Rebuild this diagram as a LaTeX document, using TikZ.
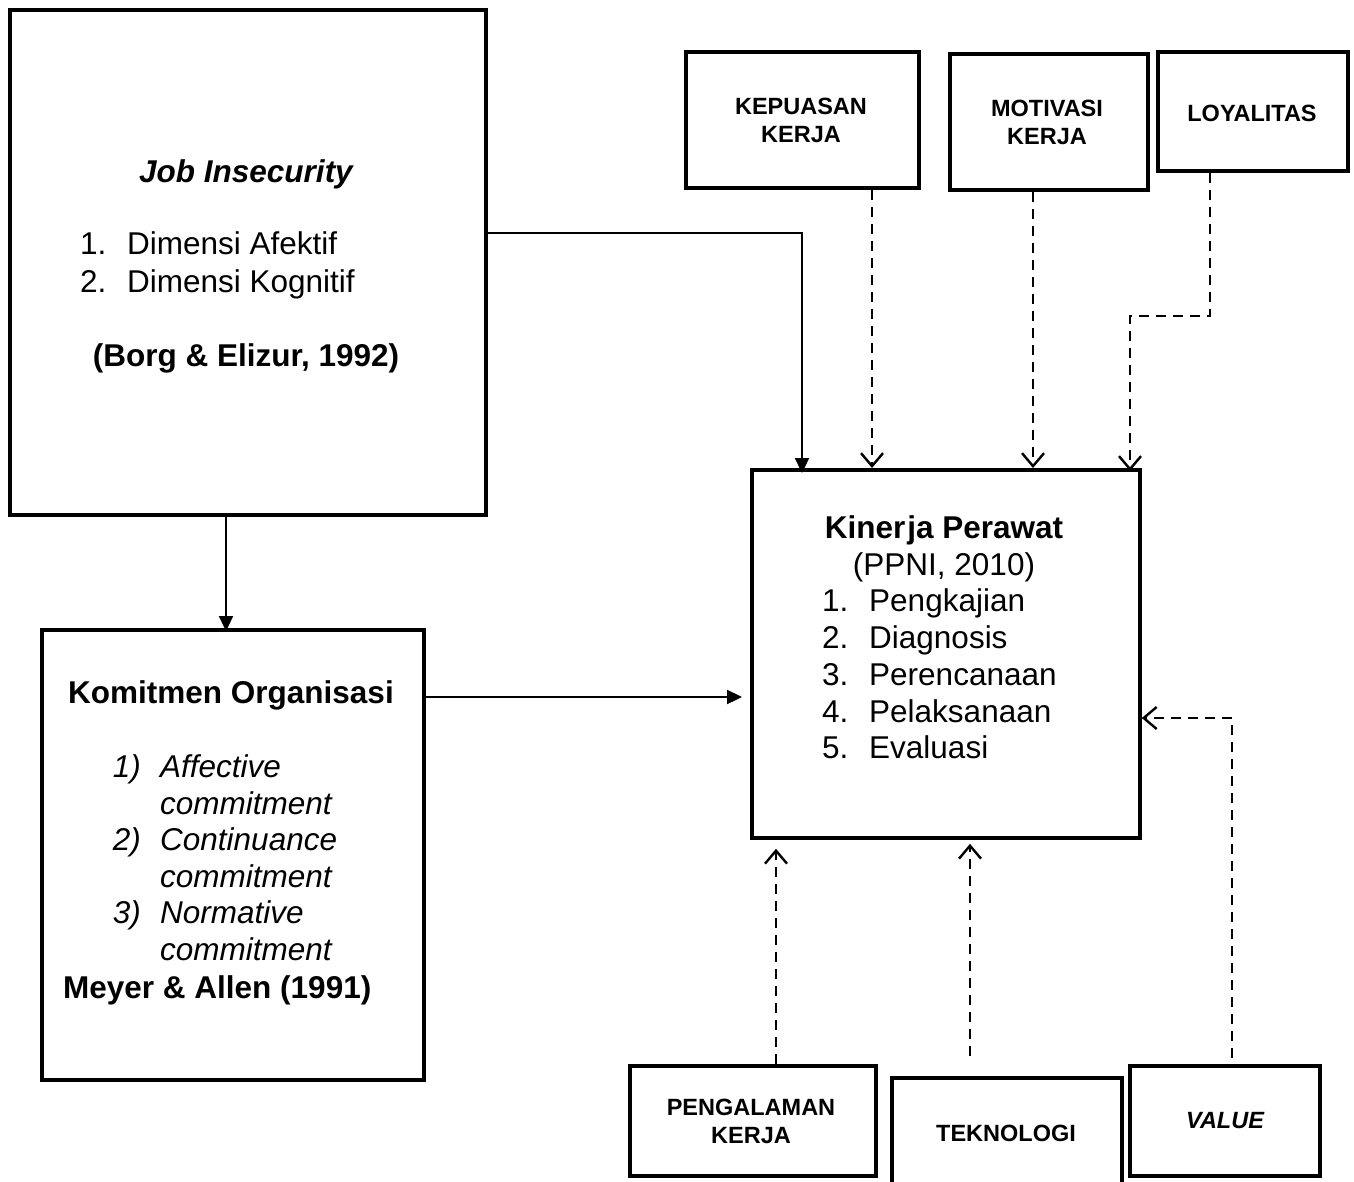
\documentclass[tikz,border=0pt]{standalone}
\usepackage{fontspec}
\setmainfont{Liberation Sans}
\usetikzlibrary{arrows.meta,calc}

\tikzset{
  frame/.style={draw, line width=3.8pt, inner sep=0pt, anchor=north west},
  big/.style={font=\fontsize{31.5}{37}\selectfont, inner sep=0pt},
  small/.style={font=\fontsize{23.5}{28}\selectfont\bfseries, inner sep=0pt, align=center},
  link/.style={line width=2.3pt, -{Triangle[length=15pt,width=14pt]}},
  dlink/.style={line width=2.4pt, dash pattern=on 10pt off 7pt,
                -{Straight Barb[length=13pt,width=22pt,line width=2.4pt]}},
}

\begin{document}
\begin{tikzpicture}[x=1pt,y=-1pt]
\useasboundingbox (0,0) rectangle (1354,1182);
\clip (0,0) rectangle (1354,1182);

% main boxes
\node[frame, minimum width=476pt, minimum height=505pt] (job) at (8,8) {};
\node[frame, minimum width=382pt, minimum height=450pt] (kom) at (40,628) {};
\node[frame, minimum width=388pt, minimum height=368pt] (kin) at (750,468) {};

% factor boxes, top row
\node[frame, minimum width=233pt, minimum height=136pt] (kep) at (684,50) {};
\node[frame, minimum width=198pt, minimum height=136pt] (mot) at (948,52) {};
\node[frame, minimum width=190pt, minimum height=119pt] (loy) at (1156,50) {};

% factor boxes, bottom row
\node[frame, minimum width=246pt, minimum height=110pt] (peng) at (628,1064) {};
\node[frame, minimum width=230pt, minimum height=130pt] (tek) at (890,1076) {};
\node[frame, minimum width=190pt, minimum height=110pt] (val) at (1128,1064) {};

% Job Insecurity text
\node[big, anchor=base, font=\fontsize{31.5}{37}\selectfont\bfseries\itshape] (jobT) at (246,183) {Job Insecurity};
\node[big, anchor=base west] (jobN1) at (80,255) {1.};
\node[big, anchor=base west] (jobL1) at (127,255) {Dimensi Afektif};
\node[big, anchor=base west] (jobN2) at (80,293) {2.};
\node[big, anchor=base west] (jobL2) at (127,293) {Dimensi Kognitif};
\node[big, anchor=base, font=\fontsize{31.5}{37}\selectfont\bfseries] (jobR) at (246,366) {(Borg \& Elizur, 1992)};

% Komitmen Organisasi text
\node[big, anchor=base, font=\fontsize{31.5}{37}\selectfont\bfseries] (komT) at (231,703) {Komitmen Organisasi};
\node[big, anchor=base east, font=\fontsize{31.5}{37}\selectfont\itshape] (komN1) at (141,777) {1)};
\node[big, anchor=base west, font=\fontsize{31.5}{37}\selectfont\itshape] (komL1) at (160,777) {Affective};
\node[big, anchor=base west, font=\fontsize{31.5}{37}\selectfont\itshape] (komL1b) at (160,814) {commitment};
\node[big, anchor=base east, font=\fontsize{31.5}{37}\selectfont\itshape] (komN2) at (141,850) {2)};
\node[big, anchor=base west, font=\fontsize{31.5}{37}\selectfont\itshape] (komL2) at (160,850) {Continuance};
\node[big, anchor=base west, font=\fontsize{31.5}{37}\selectfont\itshape] (komL2b) at (160,887) {commitment};
\node[big, anchor=base east, font=\fontsize{31.5}{37}\selectfont\itshape] (komN3) at (141,923) {3)};
\node[big, anchor=base west, font=\fontsize{31.5}{37}\selectfont\itshape] (komL3) at (160,923) {Normative};
\node[big, anchor=base west, font=\fontsize{31.5}{37}\selectfont\itshape] (komL3b) at (160,960) {commitment};
\node[big, anchor=base west, font=\fontsize{31.5}{37}\selectfont\bfseries] (komR) at (63,998) {Meyer \& Allen (1991)};

% Kinerja Perawat text
\node[big, anchor=base, font=\fontsize{31.5}{37}\selectfont\bfseries] (kinT) at (944,538) {Kiner\hspace{2pt}ja Perawat};
\node[big, anchor=base] (kinR) at (944,575) {(PPNI, 2010)};
\node[big, anchor=base west] (kinN1) at (822,611) {1.};
\node[big, anchor=base west] (kinL1) at (869,611) {Pengkajian};
\node[big, anchor=base west] (kinN2) at (822,648) {2.};
\node[big, anchor=base west] (kinL2) at (869,648) {Diagnosis};
\node[big, anchor=base west] (kinN3) at (822,685) {3.};
\node[big, anchor=base west] (kinL3) at (869,685) {Perencanaan};
\node[big, anchor=base west] (kinN4) at (822,722) {4.};
\node[big, anchor=base west] (kinL4) at (869,722) {Pelaksanaan};
\node[big, anchor=base west] (kinN5) at (822,758) {5.};
\node[big, anchor=base west] (kinL5) at (869,758) {Evaluasi};

% factor labels
\node[small] (kepT) at (801,120) {KEPUASAN\\KERJA};
\node[small] (motT) at (1047,122) {MOTIVASI\\KERJA};
\node[small] (loyT) at (1252,113) {LOYALITAS};
\node[small] (pengT) at (751,1121) {PENGALAMAN\\KERJA};
\node[small] (tekT) at (1006,1133) {TEKNOLOGI};
\node[small, font=\fontsize{23.5}{28}\selectfont\bfseries\itshape] (valT) at (1225,1121) {VALUE};

% bend and free-end points of the connectors
\coordinate (jobBend) at (802,233);
\coordinate (jobDown) at (226,570);
\coordinate (komRow) at (600,697);
\coordinate (kepCol) at (872,300);
\coordinate (motCol) at (1033,300);
\coordinate (loyTop) at (1210,316);
\coordinate (loyBend) at (1130,316);
\coordinate (pengCol) at (776,950);
\coordinate (tekEnd) at (970,1056);
\coordinate (valEnd) at (1232,1058);
\coordinate (valBend) at (1232,718);

% solid connectors
\draw[link] (job.east |- jobBend) -- (jobBend) -- ($(jobBend |- kin.north)+(0,5)$);
\draw[link] (job.south -| jobDown) -- ($(jobDown |- kom.north)+(0,3)$);
\draw[link] (kom.east |- komRow) -- ($(kin.west |- komRow)+(-8,0)$);

% dashed connectors
\draw[dlink] (kep.south -| kepCol) -- (kin.north -| kepCol);
\draw[dlink] (mot.south -| motCol) -- (kin.north -| motCol);
\draw[dlink] (loy.south -| loyTop) -- (loyTop) -- (loyBend) -- ($(loyBend |- kin.north)+(0,3)$);
\draw[dlink] (peng.north -| pengCol) -- ($(kin.south -| pengCol)+(0,9)$);
\draw[dlink] (tekEnd) -- ($(kin.south -| tekEnd)+(0,4)$);
\draw[dlink] (valEnd) -- (valBend) -- (kin.east |- valBend);
\end{tikzpicture}
\end{document}
